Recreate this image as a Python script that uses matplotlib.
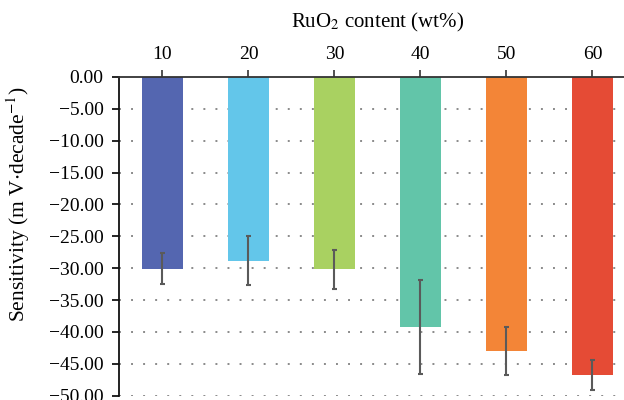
import matplotlib
matplotlib.use("Agg")
import matplotlib.pyplot as plt
from matplotlib.ticker import FuncFormatter

categories = ["10", "20", "30", "40", "50", "60"]
sensitivity = [-30.1, -28.8, -30.2, -39.2, -42.95, -46.75]
errors = [2.4, 3.85, 3.0, 7.35, 3.8, 2.4]
colors = ["#5466B0", "#63C6EA", "#A9D161", "#62C5A9", "#F38537", "#E54B35"]
yticks = [0, -5, -10, -15, -20, -25, -30, -35, -40, -45, -50]

plt.rcParams['font.family'] = ['Liberation Serif', 'DejaVu Serif']
plt.rcParams['mathtext.fontset'] = 'stix'

fig = plt.figure(figsize=(6.24, 4.0), dpi=100)
ax = fig.add_axes([0.1907, 0.0108, 0.8277, 0.797])

x = list(range(len(categories)))
ax.bar(x, sensitivity, width=0.473, color=colors, zorder=2)
ax.errorbar(x, sensitivity, yerr=errors, fmt='none', ecolor='#5a5a5a',
            elinewidth=1.5, capsize=1.8, capthick=1.5, zorder=3)

ax.set_xlim(-0.505, 5.5)
ax.set_ylim(-50, 0)
ax.set_yticks(yticks)
ax.yaxis.set_major_formatter(FuncFormatter(lambda v, p: f"{v:.2f}".replace("-", "\u2212")))
for t in yticks[1:]:
    ax.axhline(t, color='#8a8a8a', linestyle=(0, (1, 5.2)), linewidth=1.4, zorder=1)

ax.xaxis.tick_top()
ax.xaxis.set_label_position('top')
ax.set_xticks(x)
ax.set_xticklabels(categories)
ax.set_xlabel("RuO$_2$ content (wt%)", fontsize=15, labelpad=13)
ax.set_ylabel("Sensitivity (m V$\\cdot$decade$^{-1}$)", fontsize=15.5)
ax.yaxis.set_label_coords(-0.168, 0.60)

for s in ['right', 'bottom']:
    ax.spines[s].set_visible(False)
ax.spines['top'].set_color('#333333')
ax.spines['top'].set_linewidth(1.3)
ax.spines['left'].set_color('#111111')
ax.spines['left'].set_linewidth(1.3)
ax.tick_params(axis='y', direction='out', length=5, width=1.2, labelsize=14, pad=6)
ax.tick_params(axis='x', direction='out', length=5, width=1.2, labelsize=14, pad=5, color='#333333')

fig.savefig("out.png", dpi=100)
